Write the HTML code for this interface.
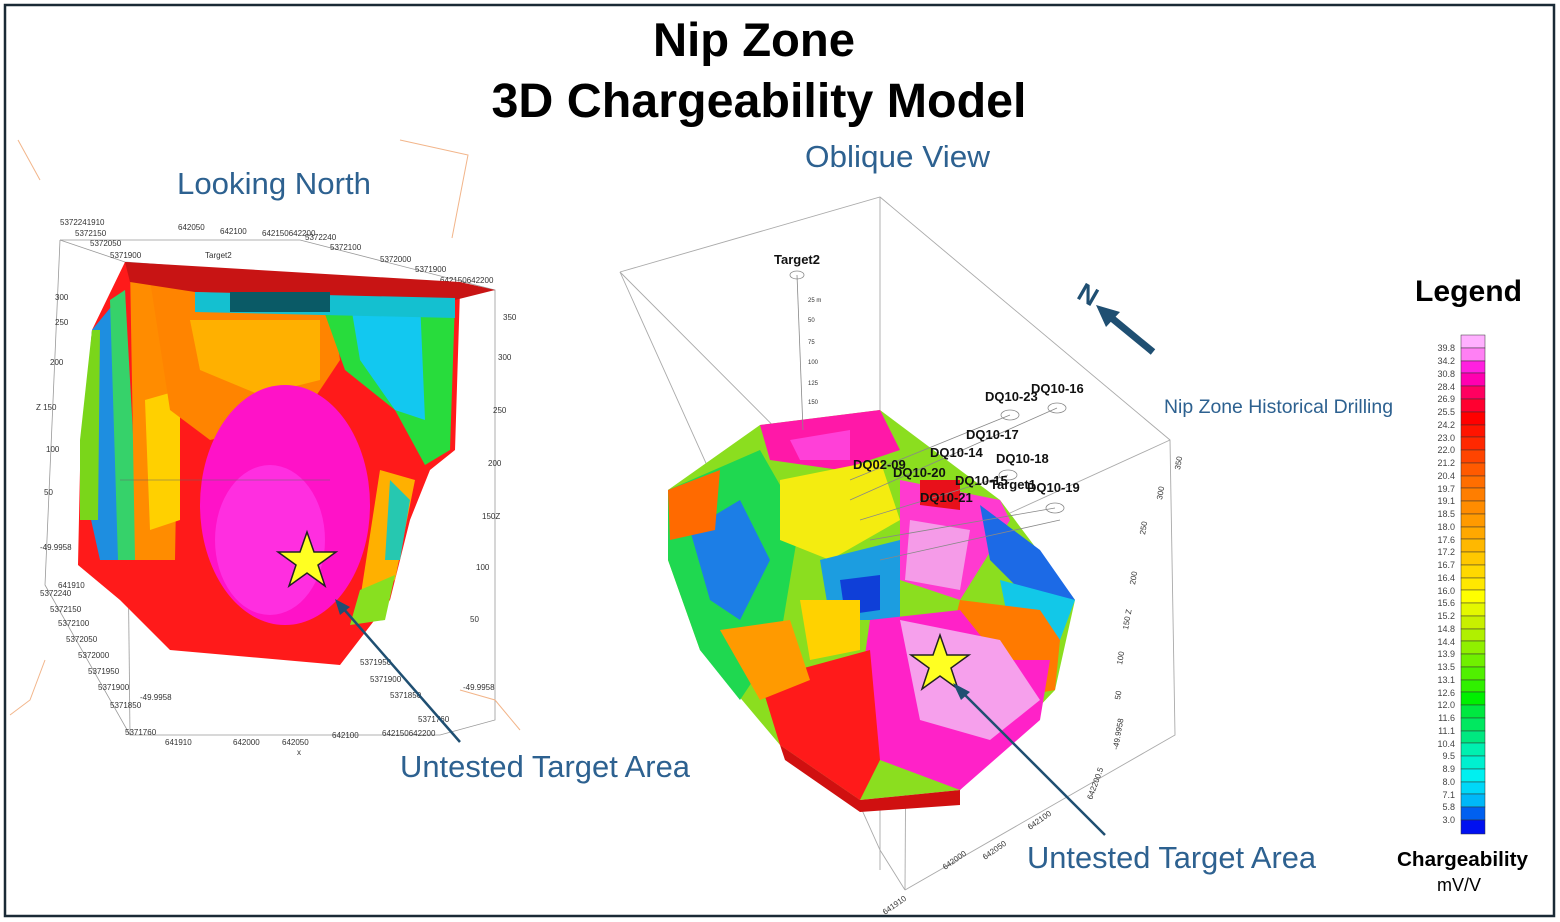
<!DOCTYPE html>
<html><head><meta charset="utf-8"><style>
html,body{margin:0;padding:0;background:#fff;}
svg{display:block;font-family:"Liberation Sans",Arial,sans-serif;}
</style></head><body>
<svg width="1560" height="922" viewBox="0 0 1560 922" xmlns="http://www.w3.org/2000/svg">
<rect x="0" y="0" width="1560" height="922" fill="#fff"/>
<rect x="5" y="5" width="1549" height="911" fill="none" stroke="#1a2a36" stroke-width="2.5"/>
<text x="754" y="56" text-anchor="middle" font-size="47" font-weight="bold" textLength="202" lengthAdjust="spacingAndGlyphs">Nip Zone</text>
<text x="759" y="117" text-anchor="middle" font-size="48" font-weight="bold" textLength="535" lengthAdjust="spacingAndGlyphs">3D Chargeability Model</text>
<text x="177" y="194" font-size="31" fill="#2d6190" textLength="194" lengthAdjust="spacingAndGlyphs">Looking North</text>
<text x="805" y="167" font-size="31" fill="#2d6190" textLength="185" lengthAdjust="spacingAndGlyphs">Oblique View</text>

<!-- left box lines -->
<g stroke="#999" stroke-width="0.8" fill="none">
<path d="M60,240 L125,262 L495,290 L495,720 L440,735 L130,735 L45,585 L60,240"/>
<path d="M125,262 L130,735"/>
<path d="M60,240 L300,240 L495,290"/>
</g>
<g stroke="#f2b58a" stroke-width="1" fill="none">
<path d="M18,140 L40,180"/><path d="M400,140 L468,155 L452,238"/><path d="M45,660 L30,700 L10,715"/><path d="M460,690 L495,700 L520,730"/>
</g>
<g font-size="8" fill="#333">
<text x="60" y="225">5372241910</text><text x="75" y="236">5372150</text><text x="90" y="246">5372050</text><text x="110" y="258">5371900</text>
<text x="178" y="230">642050</text><text x="220" y="234">642100</text><text x="262" y="236">642150642200</text><text x="205" y="258">Target2</text>
<text x="305" y="240">5372240</text><text x="330" y="250">5372100</text><text x="380" y="262">5372000</text><text x="415" y="272">5371900</text><text x="440" y="283">642150642200</text>
<text x="55" y="300">300</text><text x="55" y="325">250</text><text x="50" y="365">200</text><text x="36" y="410">Z 150</text><text x="46" y="452">100</text><text x="44" y="495">50</text>
<text x="40" y="550">-49.9958</text><text x="58" y="588">641910</text><text x="40" y="596">5372240</text><text x="50" y="612">5372150</text><text x="58" y="626">5372100</text><text x="66" y="642">5372050</text><text x="78" y="658">5372000</text><text x="88" y="674">5371950</text><text x="98" y="690">5371900</text><text x="110" y="708">5371850</text><text x="125" y="735">5371760</text>
<text x="140" y="700">-49.9958</text><text x="165" y="745">641910</text><text x="233" y="745">642000</text><text x="282" y="745">642050</text><text x="332" y="738">642100</text><text x="382" y="736">642150642200</text><text x="297" y="755">x</text>
<text x="503" y="320">350</text><text x="498" y="360">300</text><text x="493" y="413">250</text><text x="488" y="466">200</text><text x="482" y="519">150Z</text><text x="476" y="570">100</text><text x="470" y="622">50</text><text x="463" y="690">-49.9958</text>
<text x="360" y="665">5371950</text><text x="370" y="682">5371900</text><text x="390" y="698">5371850</text><text x="418" y="722">5371760</text>
</g>

<!-- left block -->
<g>
<path d="M125,262 L460,290 L455,450 L430,470 L410,520 L390,600 L340,665 L170,650 L120,600 L78,565 L80,470 L92,330 Z" fill="#ff1a1a"/>
<path d="M92,330 L125,290 L135,560 L100,560 L80,470 Z" fill="#1e8ee0"/>
<path d="M110,300 L125,290 L140,560 L118,560 Z" fill="#36d26a"/>
<path d="M80,440 L92,330 L100,330 L98,520 L80,520Z" fill="#7ad61a"/>
<path d="M130,265 L180,268 L175,560 L135,560Z" fill="#ff8c00"/>
<path d="M145,400 L180,390 L180,520 L150,530 Z" fill="#ffd000"/>
<path d="M150,280 L330,290 L340,360 L300,420 L210,440 L170,410 Z" fill="#ff8400"/>
<path d="M190,320 L320,320 L320,380 L260,395 L200,370 Z" fill="#ffb000"/>
<path d="M320,300 L455,300 L450,450 L425,465 L395,410 L345,370 Z" fill="#28dc3c"/>
<path d="M350,300 L420,300 L425,420 L395,410 L360,360 Z" fill="#12c8f0"/>
<path d="M125,262 L460,282 L495,290 L455,300 L195,292 L130,282Z" fill="#c81414"/>
<path d="M195,292 L455,298 L455,318 L195,312Z" fill="#14c0d0"/>
<path d="M230,292 L330,292 L330,312 L230,312Z" fill="#0a5a66"/>
<ellipse cx="285" cy="505" rx="85" ry="120" fill="#ff12c8"/>
<ellipse cx="270" cy="540" rx="55" ry="75" fill="#ff2ee0"/>
<path d="M380,470 L415,480 L395,580 L360,600 Z" fill="#ffb000"/>
<path d="M390,480 L410,500 L400,560 L385,560Z" fill="#26c8b0"/>
<path d="M360,590 L395,575 L385,620 L350,625Z" fill="#88e020"/>
</g>
<path d="M120,480 L330,480" stroke="#666" stroke-width="0.5"/>

<!-- right box -->
<g stroke="#aaa" stroke-width="0.9" fill="none">
<path d="M620,272 L880,197 L1170,440 L1175,735 L905,890"/>
<path d="M620,272 L880,850 L905,890"/>
<path d="M880,197 L880,870"/>
<path d="M620,272 L907,560 L1170,440"/>
<path d="M907,560 L905,890"/>
</g>
<g font-size="8" fill="#333">
<text x="1180" y="470" transform="rotate(-80 1180 470)">350</text><text x="1162" y="500" transform="rotate(-80 1162 500)">300</text><text x="1145" y="535" transform="rotate(-80 1145 535)">250</text><text x="1135" y="585" transform="rotate(-80 1135 585)">200</text><text x="1128" y="630" transform="rotate(-80 1128 630)">150 Z</text><text x="1122" y="665" transform="rotate(-80 1122 665)">100</text><text x="1120" y="700" transform="rotate(-80 1120 700)">50</text><text x="1118" y="750" transform="rotate(-80 1118 750)">-49.9958</text>
<text x="1092" y="800" transform="rotate(-70 1092 800)">642200.5</text><text x="1030" y="830" transform="rotate(-35 1030 830)">642100</text><text x="985" y="860" transform="rotate(-35 985 860)">642050</text><text x="945" y="870" transform="rotate(-35 945 870)">642000</text><text x="885" y="915" transform="rotate(-35 885 915)">641910</text>
</g>

<!-- right blob -->
<g>
<path d="M668,490 L760,425 L880,410 L1000,500 L1075,600 L1055,690 L960,790 L860,800 L780,745 L700,650 L668,560 Z" fill="#8bde1f"/>
<path d="M668,490 L760,450 L800,520 L780,640 L740,700 L700,650 L668,560Z" fill="#1fd850"/>
<path d="M690,530 L740,500 L770,560 L740,620 L710,600Z" fill="#1c7ee6"/>
<path d="M668,490 L720,470 L715,530 L670,540Z" fill="#ff6a00"/>
<path d="M760,425 L880,410 L900,450 L840,470 L770,460Z" fill="#ff18a8"/>
<path d="M790,440 L850,430 L850,460 L800,460Z" fill="#ff40d8"/>
<path d="M780,480 L880,460 L900,520 L830,560 L780,540Z" fill="#f4ec10"/>
<path d="M820,560 L900,540 L900,620 L830,620 Z" fill="#1c9de0"/>
<path d="M840,580 L880,575 L880,610 L845,615Z" fill="#0f3fd8"/>
<path d="M900,480 L1000,500 L1010,520 L960,600 L900,580 Z" fill="#ff3ad0"/>
<path d="M910,520 L970,530 L960,590 L905,580Z" fill="#f59be8"/>
<path d="M920,480 L960,480 L960,510 L920,505Z" fill="#e8101a"/>
<path d="M980,505 L1040,550 L1075,600 L1040,610 L990,560Z" fill="#1c6ae6"/>
<path d="M1000,580 L1075,600 L1060,640 L1010,630Z" fill="#12c8e8"/>
<path d="M960,600 L1040,610 L1060,640 L1055,690 L1000,700 L950,640Z" fill="#ff7a00"/>
<path d="M870,620 L960,610 L1000,660 L1050,660 L1040,720 L960,790 L880,760 L860,690Z" fill="#ff22c8"/>
<path d="M900,620 L1000,640 L1040,700 L990,740 L920,720Z" fill="#f6a0ec"/>
<path d="M760,680 L870,650 L880,760 L860,800 L780,745Z" fill="#ff1a1a"/>
<path d="M720,630 L790,620 L810,680 L760,700Z" fill="#ff9a00"/>
<path d="M800,600 L860,600 L860,650 L810,660Z" fill="#ffd200"/>
<path d="M780,745 L860,800 L960,790 L960,805 L860,812 L785,760Z" fill="#d01010"/>
</g>
<!-- drill holes -->
<g stroke="#888" stroke-width="0.8" fill="none">
<path d="M797,275 L803,430"/><ellipse cx="797" cy="275" rx="7" ry="4"/>
<ellipse cx="1010" cy="415" rx="9" ry="5"/><ellipse cx="1057" cy="408" rx="9" ry="5"/><ellipse cx="1008" cy="475" rx="9" ry="5"/><ellipse cx="1055" cy="508" rx="9" ry="5"/>
<path d="M850,480 L1010,415 M850,500 L1057,408 M860,520 L1008,475 M870,540 L1055,508 M880,560 L1060,520"/>
</g>
<g font-size="13" font-weight="bold" fill="#111">
<text x="774" y="264">Target2</text>
<text x="985" y="401">DQ10-23</text><text x="1031" y="393">DQ10-16</text>
<text x="966" y="439">DQ10-17</text><text x="930" y="457">DQ10-14</text><text x="996" y="463">DQ10-18</text>
<text x="853" y="469">DQ02-09</text><text x="893" y="477">DQ10-20</text><text x="955" y="485">DQ10-15</text><text x="990" y="489">Target1</text><text x="1027" y="492">DQ10-19</text>
<text x="920" y="502">DQ10-21</text>
</g>
<g font-size="6" fill="#333"><text x="808" y="302">25 m</text><text x="808" y="322">50</text><text x="808" y="344">75</text><text x="808" y="364">100</text><text x="808" y="385">125</text><text x="808" y="404">150</text></g>

<!-- stars -->
<polygon points="307,532 314,552 336,552 318,565 325,586 307,573 289,586 296,565 278,552 300,552" fill="#ffff22" stroke="#222" stroke-width="1.5"/>
<polygon points="940,635 947,655 969,655 951,668 958,689 940,676 922,689 929,668 911,655 933,655" fill="#ffff22" stroke="#222" stroke-width="1.5"/>

<!-- arrows -->
<g stroke="#1f4f72" stroke-width="2.5" fill="#1f4f72">
<line x1="460" y1="742" x2="342" y2="607"/><polygon points="335,599 350,607 340,615" stroke="none"/>
<line x1="1105" y1="835" x2="962" y2="692"/><polygon points="953,683 970,692 961,700" stroke="none"/>
</g>
<line x1="1153" y1="352" x2="1108" y2="315" stroke="#1f4f72" stroke-width="7"/>
<polygon points="1096,305 1120,312 1106,327" fill="#1f4f72"/>
<text x="1078" y="302" font-size="26" font-weight="bold" fill="#1f4f72" transform="rotate(30 1085 295)">N</text>

<text x="400" y="777" font-size="31" fill="#2d6190" textLength="290" lengthAdjust="spacingAndGlyphs">Untested Target Area</text>
<text x="1027" y="868" font-size="31" fill="#2d6190" textLength="289" lengthAdjust="spacingAndGlyphs">Untested Target Area</text>
<text x="1164" y="413" font-size="19" fill="#2d6190" textLength="229" lengthAdjust="spacingAndGlyphs">Nip Zone Historical Drilling</text>

<text x="1415" y="301" font-size="30" font-weight="bold" textLength="107" lengthAdjust="spacingAndGlyphs">Legend</text>
<text x="1397" y="866" font-size="20" font-weight="bold" textLength="131" lengthAdjust="spacingAndGlyphs">Chargeability</text>
<text x="1437" y="891" font-size="18">mV/V</text>

<g stroke="#333" stroke-width="0.5">
<rect x="1461" y="335" width="24" height="13" fill="#ffb0ff"/>
<rect x="1461" y="348" width="24" height="13" fill="#ff80f4"/>
<rect x="1461" y="361" width="24" height="12" fill="#ff20e0"/>
<rect x="1461" y="373" width="24" height="13" fill="#ff00b0"/>
<rect x="1461" y="386" width="24" height="13" fill="#ff0060"/>
<rect x="1461" y="399" width="24" height="13" fill="#ff0030"/>
<rect x="1461" y="412" width="24" height="13" fill="#ff0000"/>
<rect x="1461" y="425" width="24" height="12" fill="#ff1400"/>
<rect x="1461" y="437" width="24" height="13" fill="#ff2800"/>
<rect x="1461" y="450" width="24" height="13" fill="#ff4400"/>
<rect x="1461" y="463" width="24" height="13" fill="#ff5a00"/>
<rect x="1461" y="476" width="24" height="12" fill="#ff6e00"/>
<rect x="1461" y="488" width="24" height="13" fill="#ff7e00"/>
<rect x="1461" y="501" width="24" height="13" fill="#ff8c00"/>
<rect x="1461" y="514" width="24" height="13" fill="#ff9a00"/>
<rect x="1461" y="527" width="24" height="12" fill="#ffa800"/>
<rect x="1461" y="539" width="24" height="13" fill="#ffb800"/>
<rect x="1461" y="552" width="24" height="13" fill="#ffc800"/>
<rect x="1461" y="565" width="24" height="13" fill="#ffd800"/>
<rect x="1461" y="578" width="24" height="12" fill="#ffe800"/>
<rect x="1461" y="590" width="24" height="13" fill="#ffff00"/>
<rect x="1461" y="603" width="24" height="13" fill="#e4f800"/>
<rect x="1461" y="616" width="24" height="13" fill="#c8f000"/>
<rect x="1461" y="629" width="24" height="12" fill="#b0f000"/>
<rect x="1461" y="641" width="24" height="13" fill="#90f000"/>
<rect x="1461" y="654" width="24" height="13" fill="#70f000"/>
<rect x="1461" y="667" width="24" height="13" fill="#50f000"/>
<rect x="1461" y="680" width="24" height="12" fill="#30f000"/>
<rect x="1461" y="692" width="24" height="13" fill="#00f000"/>
<rect x="1461" y="705" width="24" height="13" fill="#00e840"/>
<rect x="1461" y="718" width="24" height="13" fill="#00e860"/>
<rect x="1461" y="731" width="24" height="12" fill="#00e880"/>
<rect x="1461" y="743" width="24" height="13" fill="#00f0b0"/>
<rect x="1461" y="756" width="24" height="13" fill="#00f0d0"/>
<rect x="1461" y="769" width="24" height="13" fill="#00f0f0"/>
<rect x="1461" y="782" width="24" height="12" fill="#00d8f8"/>
<rect x="1461" y="794" width="24" height="13" fill="#00b8f8"/>
<rect x="1461" y="807" width="24" height="13" fill="#0060f0"/>
<rect x="1461" y="820" width="24" height="14" fill="#0010f0"/>
</g>
<g font-size="9" fill="#444" text-anchor="end">
<text x="1455" y="351">39.8</text><text x="1455" y="364">34.2</text><text x="1455" y="377">30.8</text><text x="1455" y="390">28.4</text><text x="1455" y="402">26.9</text><text x="1455" y="415">25.5</text><text x="1455" y="428">24.2</text><text x="1455" y="441">23.0</text><text x="1455" y="453">22.0</text><text x="1455" y="466">21.2</text><text x="1455" y="479">20.4</text><text x="1455" y="492">19.7</text><text x="1455" y="504">19.1</text><text x="1455" y="517">18.5</text><text x="1455" y="530">18.0</text><text x="1455" y="543">17.6</text><text x="1455" y="555">17.2</text><text x="1455" y="568">16.7</text><text x="1455" y="581">16.4</text><text x="1455" y="594">16.0</text><text x="1455" y="606">15.6</text><text x="1455" y="619">15.2</text><text x="1455" y="632">14.8</text><text x="1455" y="645">14.4</text><text x="1455" y="657">13.9</text><text x="1455" y="670">13.5</text><text x="1455" y="683">13.1</text><text x="1455" y="696">12.6</text><text x="1455" y="708">12.0</text><text x="1455" y="721">11.6</text><text x="1455" y="734">11.1</text><text x="1455" y="747">10.4</text><text x="1455" y="759">9.5</text><text x="1455" y="772">8.9</text><text x="1455" y="785">8.0</text><text x="1455" y="798">7.1</text><text x="1455" y="810">5.8</text><text x="1455" y="823">3.0</text>
</g>
</svg>
</body></html>
